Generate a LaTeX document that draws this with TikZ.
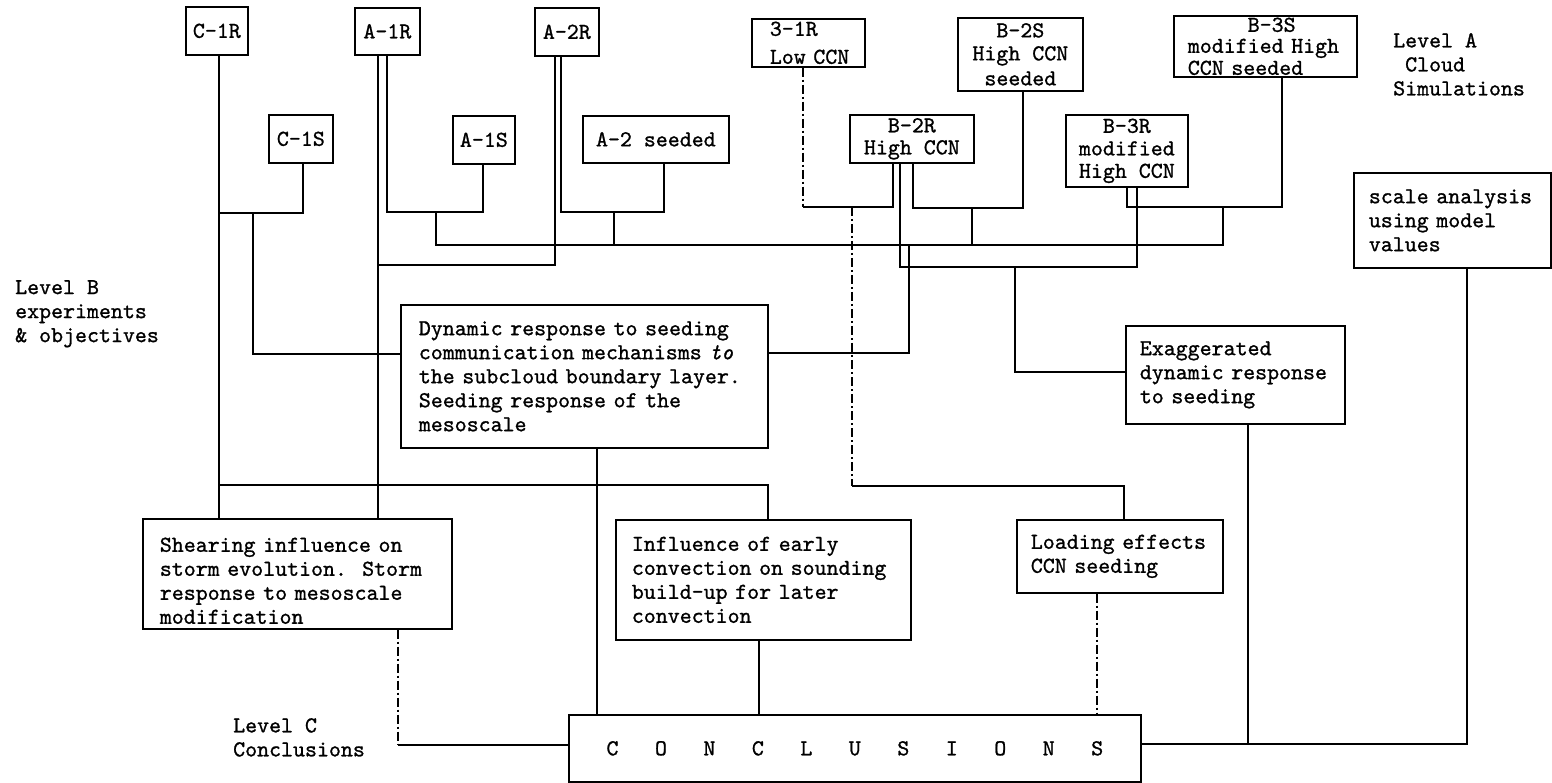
\documentclass[tikz,border=0pt]{standalone}
\usepackage{fontspec}
\setmonofont{lmmono10-regular.otf}[FakeBold=1, ItalicFont=lmmono10-italic.otf, ItalicFeatures={FakeBold=1}]
\usetikzlibrary{calc}
\newcommand\lpad[1]{\leftskip=#1pt\relax}
\newcommand\upr[1]{\rule{0pt}{#1pt}}
\begin{document}
\begin{tikzpicture}[x=1pt,y=-1pt,
  every node/.style={font=\ttfamily\fontsize{22.8}{24}\selectfont},
  box/.style={draw, line width=1.7pt, inner sep=0pt, anchor=north west},
  sbox/.style={box, align=center},
  tbox/.style={box, align=left, text width=#1},
  lbl/.style={inner sep=0pt, anchor=north west, align=left},
  conn/.style={line width=1.4pt},
  heavy/.style={line width=2.4pt},
  dashdot/.style={line width=1.3pt, dash pattern=on 9pt off 3pt on 2pt off 3pt}]
\useasboundingbox[fill=white] (0,0) rectangle (1552,783);
% level A boxes
\node[sbox, minimum width=62, minimum height=48] (c1r) at (185,6) {C-1R};
\node[sbox, minimum width=65, minimum height=47] (a1r) at (354,7) {A-1R};
\node[sbox, minimum width=64, minimum height=48] (a2r) at (534,7) {A-2R};
\node[tbox=113, minimum height=48] (b1r) at (751,18) {\lpad{18}3-1R\\[4pt]Low CCN\par};
\node[sbox, minimum width=125, minimum height=73] (b2s) at (957,17) {B-2S\\[-1pt]High CCN\\[1pt]seeded};
\node[tbox=183, minimum height=61] (b3s) at (1173,15) {\lpad{14}\hphantom{xxxxx}B-3S\\[-3pt]modified High\\[-2pt]CCN seeded\par};
\node[sbox, minimum width=64, minimum height=48] (c1s) at (268,114) {C-1S};
\node[sbox, minimum width=62, minimum height=48] (a1s) at (452,115) {A-1S};
\node[sbox, minimum width=146, minimum height=47] (a2s) at (582,115) {A-2 seeded};
\node[sbox, minimum width=124, minimum height=48] (b2r) at (849,114) {B-2R\\[-2pt]High CCN};
\node[sbox, minimum width=122, minimum height=72] (b3r) at (1065,114) {B-3R\\[-1.5pt]modified\\[-1.5pt]High CCN};
\node[tbox=197, minimum height=95] (scale) at (1353,172) {\lpad{15}scale analysis\\using model\\values\par};
% level B boxes
\node[tbox=367, minimum height=143] (dyn) at (400,304) {\lpad{18}Dynamic response to seeding\\communication mechanisms \textit{to}\\the subcloud boundary layer.\\Seeding response of the\\mesoscale\par};
\node[tbox=219, minimum height=98] (exag) at (1125,325) {\lpad{14}Exaggerated\\dynamic response\\to seeding\par};
\node[tbox=309, minimum height=110] (shear) at (142,518) {\lpad{17}\upr{28}Shearing influence on\\storm evolution.\ \ Storm\\response to mesoscale\\modification\par};
\node[tbox=295, minimum height=120] (infl) at (615,519) {\lpad{16}Influence of early\\convection on sounding\\build-up for later\\convection\par};
\node[tbox=206, minimum height=73] (load) at (1016,519) {\lpad{14}Loading effects\\CCN seeding\par};
% level C
\node[sbox, minimum width=572, minimum height=67] (concl) at (568,714) {C\hspace{36.5pt}O\hspace{36.5pt}N\hspace{36.5pt}C\hspace{36.5pt}L\hspace{36.5pt}U\hspace{36.5pt}S\hspace{36.5pt}I\hspace{36.5pt}O\hspace{36.5pt}N\hspace{36.5pt}S};
% labels
\node[lbl] (levA) at (1393,33) {Level A\\\hphantom{x}Cloud\\Simulations};
\node[lbl] (levB) at (15,280) {Level B\\experiments\\\& objectives};
\node[lbl] (levC) at (233,718) {Level C\\Conclusions};
% connectors
\draw[conn] (c1r.south -| 219,0) -- (shear.north -| 219,0);
\draw[conn] (219,213) -| (c1s.south -| 303,0);
\draw[heavy] (253,213) |- (dyn.west |- 0,354);
\draw[conn] (a1r.south -| 378,0) -- (shear.north -| 378,0);
\draw[conn] (a1r.south -| 387,0) -- (387,212) -| (a1s.south -| 483,0);
\draw[conn] (a2r.south -| 555,0) |- (378,265);
\draw[conn] (a2r.south -| 561,0) -- (561,212) -| (a2s.south -| 664,0);
\draw[conn] (436,212) |- (1223,245) -- (1223,207);
\draw[conn] (614,212) -- (614,245);
\draw[dashdot] (b1r.south -| 803,0) -- (803,207);
\draw[conn] (803,207) -| (b2r.south -| 893,0);
\draw[dashdot] (852,207) -- (852,486);
\draw[conn] (852,486) -| (load.north -| 1124,0);
\draw[conn] (b2r.south -| 913,0) -- (913,208) -| (b2s.south -| 1023,0);
\draw[conn] (972,208) -- (972,245);
\draw[conn] (b2r.south -| 900,0) |- (1137,267) -- (b3r.south -| 1137,0);
\draw[conn] (b3r.south -| 1127,0) -- (1127,207) -| (b3s.south -| 1282,0);
\draw[conn] (1015,267) |- (exag.west |- 0,372);
\draw[conn] (909,245) |- (dyn.east |- 0,353);
\draw[heavy] (219,485) -| (infl.north -| 768,0);
\draw[dashdot] (shear.south -| 398,0) -- (398,745);
\draw[heavy] (398,745) -- (concl.west |- 0,745);
\draw[conn] (dyn.south -| 597,0) -- (concl.north -| 597,0);
\draw[conn] (infl.south -| 759,0) -- (concl.north -| 759,0);
\draw[dashdot] (load.south -| 1097,0) -- (concl.north -| 1097,0);
\draw[heavy] (exag.south -| 1248,0) -- (1248,744);
\draw[heavy] (scale.south -| 1467,0) |- (concl.east |- 0,744);
\end{tikzpicture}
\end{document}
